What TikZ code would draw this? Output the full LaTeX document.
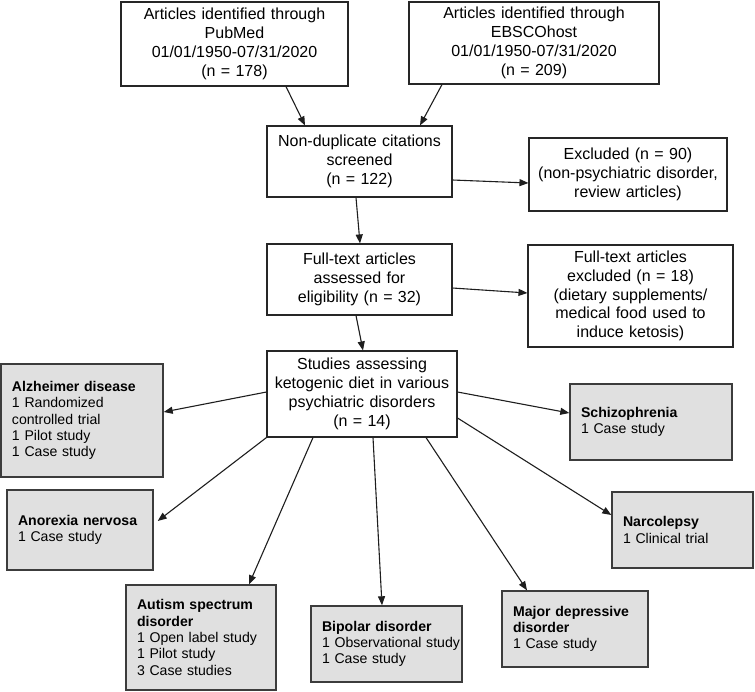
\documentclass[tikz,border=0pt]{standalone}
\usepackage{fontspec}
\setmainfont{Liberation Sans}
\usepackage{xcolor}
\usepackage{tikz}
\usetikzlibrary{arrows.meta, positioning}

\definecolor{boxgrey}{HTML}{E0E0E0}
\definecolor{edgegrey}{HTML}{3C3C3C}
\definecolor{arrowgrey}{HTML}{1E1E1E}

\tikzset{
	wbox/.style={draw=black!85, line width=1.1pt, fill=white, align=center,
		inner xsep=3pt, inner ysep=0pt,
		font=\fontsize{16}{18.8}\selectfont},
	gbox/.style={draw=edgegrey, line width=1.4pt, fill=boxgrey, align=left,
		inner xsep=0pt, inner ysep=0pt,
		execute at begin node={\leftskip=11pt\relax},
		font=\fontsize{14.1}{16.3}\selectfont},
	arr/.style={draw=arrowgrey, line width=1.1pt, -{Triangle[length=9pt, width=7pt]}}
}

\begin{document}
\begin{tikzpicture}[x=1pt, y=-1pt]
	\useasboundingbox (0, 0) rectangle (755, 691);
	% Boxes and arrows:
	\node[wbox, text width=221pt, minimum height=84pt](pubmed) at (234.5, 44){Articles identified through\\PubMed\\01/01/1950-07/31/2020\\(n = 178)};
	\node[wbox, text width=244pt, minimum height=82pt](ebsco) at (534, 43){Articles identified through\\EBSCOhost\\01/01/1950-07/31/2020\\(n = 209)};
	\node[wbox, text width=179pt, minimum height=71pt](screen) at (359.5, 161.5){Non-duplicate citations\\screened\\(n = 122)};
	\node[wbox, text width=192pt, minimum height=73pt](excl) at (628, 174.5){Excluded (n = 90)\\(non-psychiatric disorder,\\review articles)};
	\node[wbox, text width=179pt, minimum height=71pt](full) at (359.5, 279.5){Full-text articles\\assessed for\\eligibility (n = 32)};
	\node[wbox, text width=199pt, minimum height=102pt](fullexcl) at (630.5, 296){Full-text articles\\excluded (n = 18)\\(dietary supplements/\\medical food used to\\induce ketosis)};
	\node[wbox, text width=184pt, minimum height=86pt](studies) at (362, 394){Studies assessing\\ketogenic diet in various\\psychiatric disorders\\(n = 14)};
	\node[gbox, text width=162pt, minimum height=113pt](alz) at (82, 420.5){\textbf{Alzheimer disease}\\1 Randomized\\controlled trial\\1 Pilot study\\1 Case study};
	\node[gbox, text width=162pt, minimum height=76pt](schiz) at (651, 422){\textbf{Schizophrenia}\\1 Case study};
	\node[gbox, text width=146pt, minimum height=80pt](anor) at (80, 530){\textbf{Anorexia nervosa}\\1 Case study};
	\node[gbox, text width=141pt, minimum height=76pt](narc) at (682.5, 530){\textbf{Narcolepsy}\\1 Clinical trial};
	\node[gbox, text width=150pt, minimum height=105pt](autism) at (201, 637.5){\textbf{Autism spectrum}\\\textbf{disorder}\\1 Open label study\\1 Pilot study\\3 Case studies};
	\node[gbox, text width=151pt, minimum height=76pt](bipolar) at (386.5, 644){\textbf{Bipolar disorder}\\1 Observational study\\1 Case study};
	\node[gbox, text width=146pt, minimum height=76pt](major) at (575, 629){\textbf{Major depressive}\\\textbf{disorder}\\1 Case study};
	\draw[arr] ([xshift=51.5pt]pubmed.south) -- ([xshift=-54.5pt]screen.north);
	\draw[arr] ([xshift=-92pt]ebsco.south) -- ([xshift=60.5pt]screen.north);
	\draw[arr] ([yshift=-18.5pt]screen.east) -- ([yshift=-8.5pt]excl.west);
	\draw[arr] ([xshift=-3.5pt]screen.south) -- ([xshift=0.5pt]full.north);
	\draw[arr] ([yshift=-8.5pt]full.east) -- ([yshift=3pt]fullexcl.west);
	\draw[arr] ([xshift=-3.5pt]full.south) -- ([xshift=1pt]studies.north);
	\draw[arr] ([yshift=2pt]studies.west) -- ([yshift=8.5pt]alz.east);
	\draw[arr] ([yshift=2pt]studies.east) -- ([yshift=9pt]schiz.west);
	\draw[arr] ([yshift=-24pt]studies.east) -- ([yshift=15pt]narc.west);
	\draw[arr] (studies.south west) -- ([xshift=4pt, yshift=9pt]anor.east);
	\draw[arr] ([xshift=-49pt]studies.south) -- ([xshift=48pt]autism.north);
	\draw[arr] ([xshift=11pt]studies.south) -- ([xshift=-4.5pt]bipolar.north);
	\draw[arr] ([xshift=64pt]studies.south) -- ([xshift=-48pt]major.north);
\end{tikzpicture}
\end{document}
